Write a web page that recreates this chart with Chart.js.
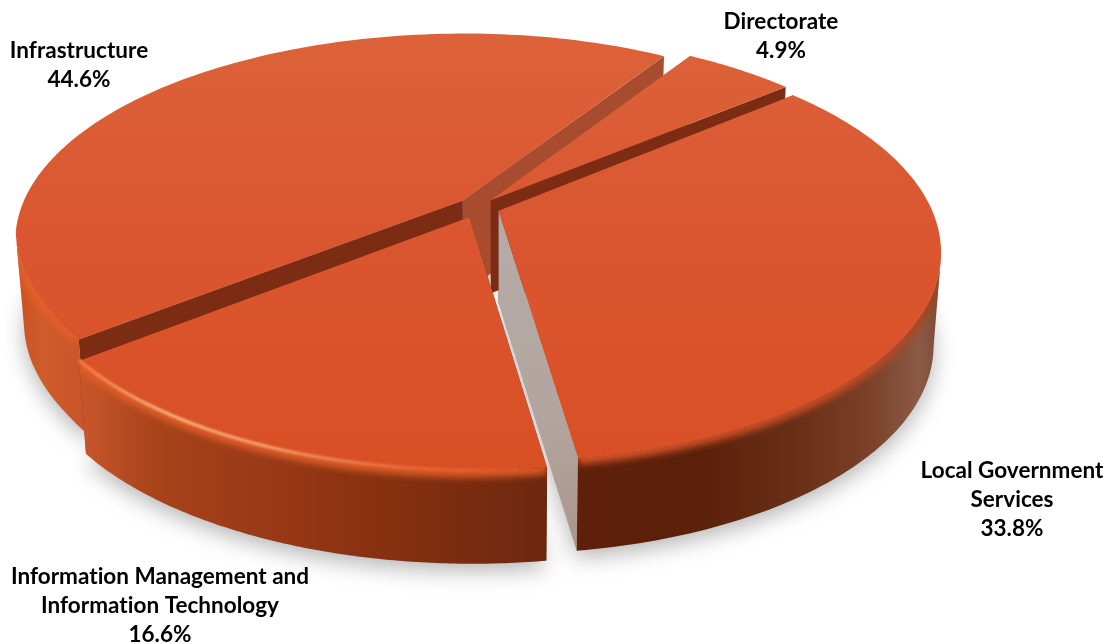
<!DOCTYPE html>
<html>
<head>
<meta charset="utf-8">
<style>html,body{margin:0;padding:0;background:#fff}canvas{display:block}</style>
<script src="https://cdn.jsdelivr.net/npm/chart.js@4/dist/chart.umd.js"></script>
</head>
<body>
<canvas id="pie" width="1108" height="644"></canvas>
<script>
// Budget share by division
const categories = ['Infrastructure', 'Directorate', 'Local Government\nServices', 'Information Management and\nInformation Technology'];
const shares = [44.6, 4.9, 33.8, 16.6];
const explode = [15, 14, 16, 17];

// Text anchors for the four captions (centre x, first baseline y)
const captionAnchors = [[79, 58], [781, 29], [1012, 478], [160, 584]];

// Camera model for the tilted disc
const CX = 478, CY = 207, RX = 432, RY = 201, TILT = 0.19, DEPTH = 93, SHRINK = 0.983, VANISH_X = 500;

// Small per-wedge corrections to the rim outline in disc units
const rimTrim = [{left: 1.022, shift: 0, taper: 0.55}, {left: 1, shift: 0.006}, {left: 1, shift: 0}, {left: 1.012, shift: 0.009}];

function projectTop(u, v) {
  const w = 1 - TILT * v;
  return [CX + RX * u / w, CY + RY * v / w];
}
function projectBase(u, v) {
  const p = projectTop(u, v);
  return [VANISH_X + (p[0] - VANISH_X) * SHRINK, p[1] + DEPTH];
}
function poly(ctx, pts) {
  ctx.beginPath();
  pts.forEach((p, i) => i ? ctx.lineTo(p[0], p[1]) : ctx.moveTo(p[0], p[1]));
  ctx.closePath();
}
function stops(g, list) {
  list.forEach(s => g.addColorStop(s[0], s[1]));
  return g;
}
function wallGradient(ctx) {
  return stops(ctx.createLinearGradient(15, 0, 942, 0), [
    [0, '#c9521f'], [0.03, '#d05c2b'], [0.075, '#c8552a'], [0.15, '#a8431a'], [0.26, '#9a3a18'],
    [0.41, '#85300f'], [0.565, '#6e280f'], [0.61, '#5f200b'], [0.74, '#5a2009'],
    [0.85, '#6a3018'], [0.92, '#7a4028'], [0.975, '#8c5a46'], [1, '#7b4a36']]);
}
function bevelGradient(ctx) {
  return stops(ctx.createLinearGradient(15, 0, 942, 0), [
    [0, '#e25f28'], [0.55, '#dd5a27'], [0.65, '#d2502a'], [0.9, '#c44c22'], [1, '#9c4622']]);
}
function glintGradient(ctx) {
  return stops(ctx.createLinearGradient(60, 0, 540, 0), [
    [0, 'rgba(255,130,70,0.7)'], [0.22, 'rgba(255,200,150,0.85)'], [0.42, 'rgba(255,190,140,0.75)'],
    [0.75, 'rgba(255,130,70,0.45)'], [1, 'rgba(255,120,60,0)']]);
}
function topGradient(ctx) {
  return stops(ctx.createLinearGradient(0, 33, 0, 480), [
    [0, '#dc6239'], [0.45, '#da5630'], [1, '#d94f24']]);
}
function greyFace(ctx) {
  return stops(ctx.createLinearGradient(0, 210, 0, 552), [[0, '#b4aca8'], [0.6, '#b3a59f'], [1, '#ab958b']]);
}

// Renders the arcs the pie controller laid out as extruded wedges on the tilted disc
const discPlugin = {
  id: 'tiltedDisc',
  afterDatasetsDraw(chart) {
    const ctx = chart.ctx;
    const arcs = chart.getDatasetMeta(0).data;
    const faceColours = [
      {start: '#7b2c12', end: '#a84c30'},
      {start: '#a84c30', end: '#7b2c12'},
      {start: '#7b2c12', end: greyFace(ctx)},
      {start: '#7b2c12', end: '#7b2c12'}
    ];
    const wedges = arcs.map((arc, idx) => {
      const off = arc.options.offset / arc.outerRadius;
      const mid = (arc.startAngle + arc.endAngle) / 2;
      const ou = off * Math.cos(mid), ov = off * Math.sin(mid);
      const trim = rimTrim[idx];
      const rim = [];
      const steps = 120;
      for (let i = 0; i <= steps; i++) {
        const a = arc.startAngle + (arc.endAngle - arc.startAngle) * i / steps;
        const c = Math.cos(a), s = Math.sin(a);
        const fade = trim.taper ? Math.min(1, Math.max(0, (trim.taper - s) / 0.4)) : 1;
        const stretch = c < 0 ? 1 + (trim.left - 1) * fade : 1;
        rim.push([ou + c * stretch + trim.shift, ov + s]);
      }
      return {ou, ov, rim};
    });

    // soft contact shadow below the disc
    ctx.save();
    ctx.filter = 'blur(11px)';
    ctx.fillStyle = 'rgba(70,70,70,0.4)';
    wedges.forEach(w => {
      poly(ctx, [[w.ou, w.ov]].concat(w.rim).map(p => {
        const b = projectBase(p[0], p[1]);
        return [b[0], b[1] + 7];
      }));
      ctx.fill();
    });
    ctx.restore();

    wedges.forEach((w, i) => {
      const hubT = projectTop(w.ou, w.ov), hubB = projectBase(w.ou, w.ov);
      const rimT = w.rim.map(p => projectTop(p[0], p[1]));
      const rimB = w.rim.map(p => projectBase(p[0], p[1]));
      const n = rimT.length - 1;

      // radial cut faces
      ctx.fillStyle = faceColours[i].start;
      poly(ctx, [hubT, rimT[0], rimB[0], hubB]); ctx.fill();
      ctx.fillStyle = faceColours[i].end;
      poly(ctx, [hubT, rimT[n], rimB[n], hubB]); ctx.fill();

      // outer wall: only the stretch of rim that runs right-to-left faces the viewer
      const frontT = [], frontB = [];
      for (let k = 0; k <= n; k++) {
        const prev = rimT[Math.max(k - 1, 0)], next = rimT[Math.min(k + 1, n)];
        if (next[0] < prev[0]) { frontT.push(rimT[k]); frontB.push(rimB[k]); }
      }
      if (frontT.length > 1) {
        const wall = frontT.concat(frontB.slice().reverse());
        ctx.fillStyle = wallGradient(ctx);
        poly(ctx, wall); ctx.fill();

        // rounded shoulder where the wall meets the top
        ctx.save();
        poly(ctx, wall); ctx.clip();
        ctx.filter = 'blur(3.5px)';
        ctx.strokeStyle = bevelGradient(ctx);
        ctx.lineWidth = 13;
        ctx.beginPath();
        frontT.forEach((p, k) => k ? ctx.lineTo(p[0], p[1]) : ctx.moveTo(p[0], p[1]));
        ctx.stroke();
        ctx.restore();
      }

      // top surface
      ctx.fillStyle = topGradient(ctx);
      poly(ctx, [hubT].concat(rimT)); ctx.fill();

      // specular line along the near-left rim
      if (frontT.length > 1 && i === 3) {
        ctx.save();
        ctx.filter = 'blur(1.2px)';
        ctx.strokeStyle = glintGradient(ctx);
        ctx.lineWidth = 3;
        ctx.beginPath();
        frontT.forEach((p, k) => k ? ctx.lineTo(p[0], p[1] - 1) : ctx.moveTo(p[0], p[1] - 1));
        ctx.stroke();
        ctx.restore();
      }
    });

    // captions
    ctx.save();
    ctx.fillStyle = '#000';
    ctx.font = 'bold 22.5px Lato, sans-serif';
    ctx.letterSpacing = '0.02px';
    ctx.textAlign = 'center';
    ctx.textBaseline = 'alphabetic';
    categories.forEach((label, i) => {
      const lines = label.split('\n').concat([shares[i].toFixed(1) + '%']);
      lines.forEach((t, k) => ctx.fillText(t, captionAnchors[i][0], captionAnchors[i][1] + k * 29));
    });
    ctx.restore();
  }
};

new Chart(document.getElementById('pie'), {
  type: 'pie',
  data: {
    labels: categories,
    datasets: [{data: shares, offset: explode, backgroundColor: 'rgba(0,0,0,0)', borderWidth: 0, hoverOffset: 0}]
  },
  options: {
    responsive: false,
    animation: false,
    rotation: 231.8,
    plugins: {legend: {display: false}, tooltip: {enabled: false}},
    events: []
  },
  plugins: [discPlugin]
});
</script>
</body>
</html>
